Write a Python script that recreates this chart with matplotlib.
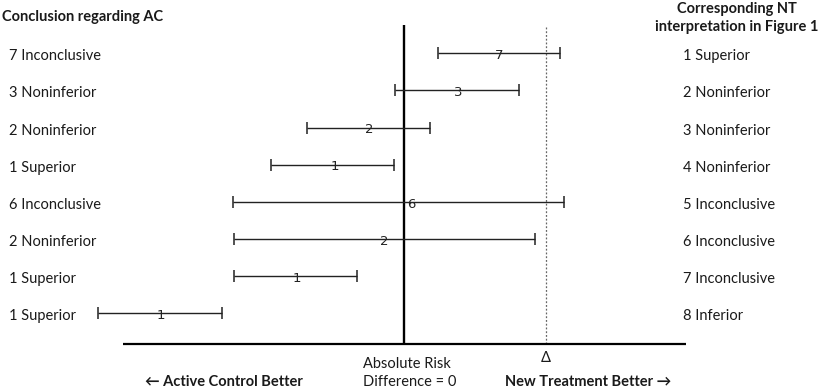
import matplotlib
matplotlib.use("Agg")
import matplotlib.pyplot as plt
import numpy as np

plt.rcParams['font.family'] = ['Lato', 'DejaVu Sans']

# Data (x in units of the margin Delta; 0 = no difference)
rows = [1, 2, 3, 4, 5, 6, 7, 8]
lower = [0.236, -0.068, -0.690, -0.945, -1.214, -1.202, -1.207, -2.164]
upper = [1.103, 0.813, 0.180, -0.071, 1.132, 0.922, -0.337, -1.287]
estimate = [0.67, 0.38, -0.25, -0.49, 0.05, -0.14, -0.76, -1.72]
study_labels = ["7", "3", "2", "1", "6", "2", "1", "1"]
ac_conclusion = ["7 Inconclusive", "3 Noninferior", "2 Noninferior", "1 Superior",
                 "6 Inconclusive", "2 Noninferior", "1 Superior", "1 Superior"]
nt_interpretation = ["1 Superior", "2 Noninferior", "3 Noninferior", "4 Noninferior",
                     "5 Inconclusive", "6 Inconclusive", "7 Inconclusive", "8 Inferior"]
delta = 1.0

fig = plt.figure(figsize=(8.21, 3.89), dpi=100)
ax = fig.add_axes([0, 0, 1, 1])
ax.set_xlim(-2.859, 2.947)
ax.set_ylim(10.04, -0.435)
ax.axis('off')

lo = np.array(lower)
hi = np.array(upper)
mid = (lo + hi) / 2
ax.errorbar(mid, rows, xerr=[mid - lo, hi - mid], fmt='none', ecolor='#222222',
            elinewidth=1.0, capsize=4, capthick=1.1, zorder=2)

for x, y, s in zip(estimate, rows, study_labels):
    ax.text(x, y + 0.06, s, ha='center', va='center', fontsize=9.5,
            family='DejaVu Sans', color='#222222', zorder=3)

# zero line, delta line, axis line
ax.plot([0, 0], [0.24, 8.83], color='black', lw=1.7, zorder=1, solid_capstyle='butt')
ax.plot([delta, delta], [0.28, 8.83], color='#666666', lw=0.9, ls=(0, (1.5, 1.5)), zorder=1)
ax.plot([-1.99, 1.99], [8.83, 8.83], color='black', lw=1.6, zorder=1, solid_capstyle='butt')

fs = 10.5
for y, s in zip(rows, ac_conclusion):
    ax.text(-2.795, y + 0.08, s, ha='left', va='center', fontsize=fs, color='#1a1a1a')
for y, s in zip(rows, nt_interpretation):
    ax.text(1.971, y + 0.08, s, ha='left', va='center', fontsize=fs, color='#1a1a1a')

ax.text(0.002, 1 - 17 / 389, "Conclusion regarding AC", transform=ax.transAxes,
        ha='left', va='center', fontsize=fs, fontweight='bold', color='#1a1a1a')
ax.text(737 / 821, 1 - 18 / 389, "Corresponding NT\ninterpretation in Figure 1",
        transform=ax.transAxes, ha='center', va='center', fontsize=fs,
        fontweight='bold', color='#1a1a1a', linespacing=1.45)

ax.text(delta, 9.2, "Δ", ha='center', va='center', fontsize=fs, color='#1a1a1a')
ax.text(363 / 821, 1 - 373 / 389, "Absolute Risk\nDifference = 0", transform=ax.transAxes,
        ha='left', va='center', fontsize=fs, color='#1a1a1a', linespacing=1.45)
ax.text(145 / 821, 1 - 382 / 389, "← Active Control Better", transform=ax.transAxes,
        ha='left', va='center', fontsize=fs, fontweight='bold', color='#1a1a1a',
        family=['Lato', 'DejaVu Sans'])
ax.text(505 / 821, 1 - 382 / 389, "New Treatment Better →", transform=ax.transAxes,
        ha='left', va='center', fontsize=fs, fontweight='bold', color='#1a1a1a',
        family=['Lato', 'DejaVu Sans'])

fig.savefig("out.png", dpi=100)
